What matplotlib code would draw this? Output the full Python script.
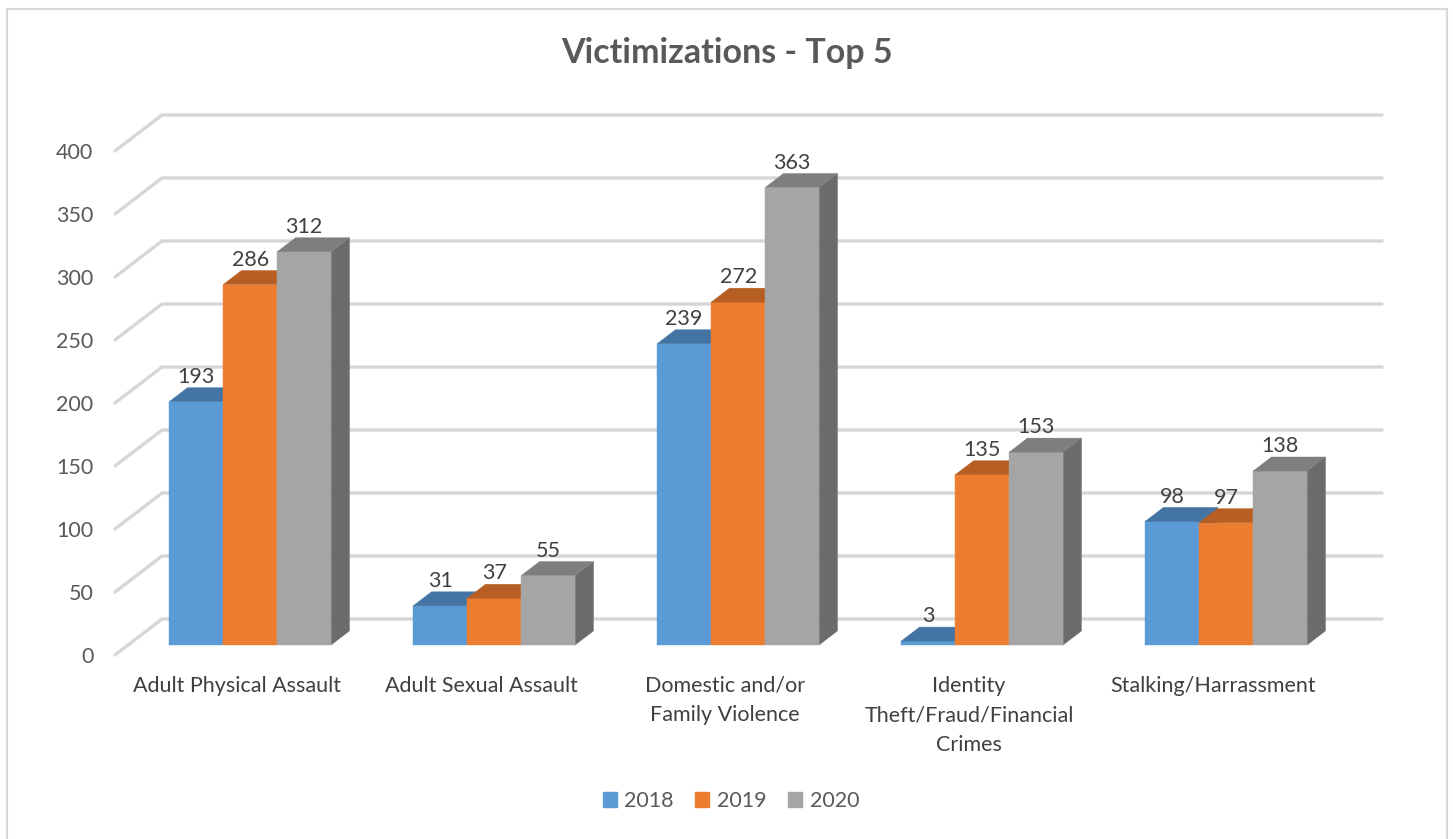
import matplotlib.pyplot as plt
from matplotlib.patches import Polygon, Patch, Rectangle

plt.rcParams['font.family'] = ['Lato', 'DejaVu Sans']

categories = ['Adult Physical Assault', 'Adult Sexual Assault',
              'Domestic and/or\nFamily Violence',
              'Identity\nTheft/Fraud/Financial\nCrimes',
              'Stalking/Harrassment']
years = ['2018', '2019', '2020']
v2018 = [193, 31, 239, 3, 98]
v2019 = [286, 37, 272, 135, 97]
v2020 = [312, 55, 363, 153, 138]
series = [v2018, v2019, v2020]
yticks = [0, 50, 100, 150, 200, 250, 300, 350, 400]

front_col = ['#5B9BD5', '#ED7D31', '#A5A5A5']
top_col = ['#4374A3', '#B65E24', '#7E7E7E']
side_col = ['#3E6C97', '#A9561F', '#6B6B6B']
txt = '#595959'

W, H = 1453, 839
fig = plt.figure(figsize=(W / 100, H / 100), dpi=100)
ax = fig.add_axes([115 / W, 1 - 655 / H, 1220 / W, 504 / H])
ax.set_xlim(-0.5, 4.5)
ax.set_ylim(0, 400)
for s in ax.spines.values():
    s.set_visible(False)

# pseudo 3d: depth z in [0,1] shifts right/up
px_x = 1220 / 5
px_y = 504 / 400
def off(z):
    return 47 * z / px_x, 36 * z / px_y

# back wall gridlines
wx, wy = off(1.0)
for v in yticks:
    xs = [-0.5, -0.5 + wx, 4.5 + wx]
    ys = [v, v + wy, v + wy]
    ax.plot(xs, ys, color='#DEDEDE', lw=2.6, clip_on=False, zorder=1,
            solid_capstyle='round')
    ax.plot(xs, ys, color='#CDCDCD', lw=0.6, clip_on=False, zorder=1)

bw = 54 / px_x
fx, fy = off(0.28)
bx, by = off(0.67)
z = 2
for i in range(len(categories)):
    for j, vals in enumerate(series):
        v = vals[i]
        x0 = i - 1.5 * bw + j * bw
        x1 = x0 + bw
        side = [(x1 + fx, fy), (x1 + bx, by), (x1 + bx, v + by), (x1 + fx, v + fy)]
        front = [(x0 + fx, fy), (x1 + fx, fy), (x1 + fx, v + fy), (x0 + fx, v + fy)]
        top = [(x0 + fx, v + fy), (x1 + fx, v + fy), (x1 + bx, v + by), (x0 + bx, v + by)]
        for pts, c in [(side, side_col[j]), (front, front_col[j]), (top, top_col[j])]:
            ax.add_patch(Polygon(pts, closed=True, facecolor=c, edgecolor=c,
                                 lw=0.3, clip_on=False, zorder=z))
            z += 0.01
        ax.text((x0 + x1) / 2 + fx, v + fy + 15, str(v), ha='center',
                va='baseline', fontsize=15.5, color='#404040', zorder=10)

ax.set_yticks(yticks)
ax.set_xticks(range(len(categories)), categories)
ax.tick_params(axis='y', length=0, pad=15.5, labelsize=15.5, labelcolor=txt)
ax.tick_params(axis='x', length=0, pad=15, labelsize=15.5, labelcolor='#404040')
for t in ax.get_xticklabels():
    t.set_linespacing(1.6)

fig.text(727 / W, 1 - 53 / H, 'Victimizations - Top 5', ha='center', va='center',
         fontsize=24.5, fontweight='bold', color=txt)

handles = [Patch(facecolor=c, edgecolor=c) for c in front_col]
fig.legend(handles, years, loc='center', bbox_to_anchor=(731 / W, 1 - 801 / H),
           ncol=3, frameon=False, fontsize=15.5, handlelength=0.65, handleheight=0.65,
           handletextpad=0.35, columnspacing=1.0, labelcolor=txt)

fig.patches.append(Rectangle((7 / W, -0.05), 1440 / W, 1.05 - 9 / H,
                             transform=fig.transFigure, fill=False,
                             edgecolor='#D9D9D9', lw=1.5))

fig.savefig('out.png', dpi=100, facecolor='white')
